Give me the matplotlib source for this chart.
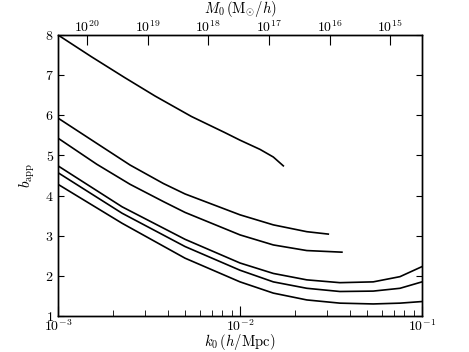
import numpy as np
import matplotlib
matplotlib.use('Agg')
import matplotlib.pyplot as plt

plt.rcParams['font.family'] = 'serif'
plt.rcParams['font.serif'] = ['cmr10']
plt.rcParams['mathtext.fontset'] = 'cm'
plt.rcParams['axes.formatter.use_mathtext'] = True

# curves: log10(k0) and b_app
logk_1 = [-3.0, -2.817, -2.634, -2.467, -2.267, -2.084, -2.0, -1.89, -1.817, -1.762]
b_1 = [8.0, 7.46, 6.94, 6.48, 5.97, 5.57, 5.38, 5.15, 4.96, 4.74]

logk_2 = [-3.0, -2.787, -2.604, -2.421, -2.302, -2.0, -1.817, -1.633, -1.515]
b_2 = [5.93, 5.30, 4.76, 4.30, 4.04, 3.52, 3.27, 3.10, 3.04]

logk_3 = [-3.0, -2.787, -2.604, -2.421, -2.302, -2.0, -1.817, -1.633, -1.44]
b_3 = [5.43, 4.78, 4.28, 3.85, 3.58, 3.02, 2.77, 2.63, 2.59]

logk_4 = [-3.0, -2.648, -2.302, -2.0, -1.817, -1.633, -1.451, -1.268, -1.121, -1.0]
b_4 = [4.74, 3.72, 2.91, 2.32, 2.06, 1.90, 1.83, 1.85, 1.98, 2.23]

logk_5 = [-3.0, -2.648, -2.302, -2.0, -1.817, -1.633, -1.451, -1.268, -1.121, -1.0]
b_5 = [4.57, 3.56, 2.73, 2.14, 1.85, 1.69, 1.61, 1.62, 1.69, 1.85]

logk_6 = [-3.0, -2.648, -2.302, -2.0, -1.817, -1.633, -1.451, -1.268, -1.121, -1.0]
b_6 = [4.28, 3.31, 2.44, 1.85, 1.57, 1.40, 1.32, 1.30, 1.32, 1.36]

curves = [(logk_1, b_1), (logk_2, b_2), (logk_3, b_3),
          (logk_4, b_4), (logk_5, b_5), (logk_6, b_6)]

# top axis: mass scale, M0 = C * k0^-3
log_C = 11.477
mass_exps = [20, 19, 18, 17, 16, 15]

fig = plt.figure(figsize=(4.69, 3.52), dpi=100)
ax = fig.add_axes([0.1237, 0.1023, 0.7761, 0.7983])

for lk, b in curves:
    ax.plot(10 ** np.array(lk), b, color='black', lw=1.2)

ax.set_xscale('log')
ax.set_xlim(1e-3, 1e-1)
ax.set_ylim(1, 8)
ax.set_yticks(range(1, 9))
ax.set_xlabel(r'$k_0\,(h/\mathrm{Mpc})$', fontsize=10.5, labelpad=-1)
ax.set_ylabel(r'$b_{\rm app}$', fontsize=11, labelpad=6)
ax.tick_params(which='both', direction='in', right=True, labelsize=10)
ax.tick_params(which='major', length=7, width=0.8, pad=1.5)
ax.tick_params(which='minor', length=4, width=0.6)
ax.tick_params(axis='y', which='major', length=4, pad=3)

ax2 = ax.twiny()
ax2.set_xscale('log')
ax2.set_xlim(ax.get_xlim())
ax2.set_xticks([10 ** ((log_C - m) / 3.0) for m in mass_exps])
ax2.set_xticklabels([r'$10^{%d}$' % m for m in mass_exps])
ax2.xaxis.set_minor_locator(matplotlib.ticker.NullLocator())
ax2.tick_params(direction='in', length=7, width=0.8, labelsize=10, pad=0)
ax2.set_xlabel(r'$M_0\,(\mathrm{M}_{\odot}/h)$', fontsize=10.5, labelpad=4)

for a in (ax, ax2):
    for s in a.spines.values():
        s.set_linewidth(1.0)

fig.savefig('out.png', dpi=100)
